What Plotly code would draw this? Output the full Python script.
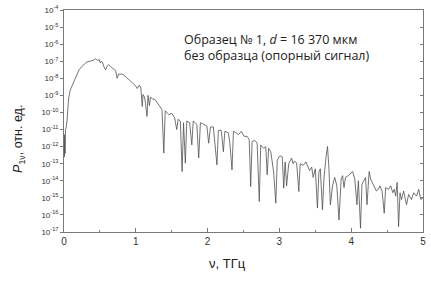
import plotly.graph_objects as go

# frequency, THz
nu = [0.0, 0.005, 0.01, 0.015, 0.02, 0.03, 0.042, 0.055, 0.065, 0.088, 0.11, 0.135, 0.16, 0.18, 0.21, 0.25, 0.29, 0.32, 0.36, 0.39,
      0.42, 0.436, 0.455, 0.47, 0.49, 0.506, 0.52, 0.535, 0.553, 0.58, 0.60, 0.62, 0.645, 0.67, 0.70, 0.72, 0.74, 0.76, 0.80, 0.83,
      0.87, 0.92, 0.95, 0.97, 1.0, 1.02, 1.05, 1.07, 1.09, 1.10, 1.12, 1.135, 1.156, 1.17, 1.19, 1.205, 1.23, 1.27, 1.31, 1.365,
      1.39, 1.41, 1.46, 1.50, 1.54, 1.57, 1.59, 1.62, 1.645, 1.665, 1.69, 1.71, 1.75, 1.78, 1.80, 1.85, 1.876, 1.90, 1.95, 1.99,
      2.015, 2.04, 2.08, 2.13, 2.15, 2.19, 2.22, 2.24, 2.29, 2.31, 2.34, 2.36, 2.40, 2.43, 2.47, 2.51, 2.55, 2.58, 2.60, 2.62,
      2.66, 2.69, 2.72, 2.74, 2.78, 2.81, 2.83, 2.85, 2.88, 2.92, 2.95, 2.97, 2.998, 3.02, 3.04, 3.06, 3.08, 3.10, 3.13, 3.17,
      3.19, 3.21, 3.24, 3.27, 3.29, 3.33, 3.37, 3.40, 3.42, 3.45, 3.47, 3.50, 3.53, 3.55, 3.57, 3.60, 3.62, 3.65, 3.67, 3.69,
      3.71, 3.74, 3.77, 3.80, 3.83, 3.86, 3.88, 3.90, 3.92, 3.96, 4.02, 4.05, 4.08, 4.10, 4.13, 4.15, 4.17, 4.20, 4.22, 4.25,
      4.27, 4.31, 4.35, 4.38, 4.40, 4.43, 4.46, 4.48, 4.52, 4.55, 4.58, 4.60, 4.62, 4.64, 4.66, 4.68, 4.70, 4.73, 4.77, 4.80,
      4.84, 4.87, 4.91, 4.94, 4.97, 5.0]

# log10 of P_1nu, rel. units
logp = [-11.6, -12.6, -11.3, -12.4, -11.0, -10.9, -10.5, -9.6, -9.15, -8.67, -8.45, -8.18, -7.9, -7.69, -7.5, -7.3, -7.15, -7.04, -7.0, -6.96,
        -6.92, -6.85, -6.93, -6.96, -6.9, -7.1, -7.0, -7.05, -7.3, -7.5, -7.3, -7.2, -7.3, -7.39, -7.5, -7.55, -8.0, -7.75, -7.75, -7.8,
        -7.95, -8.14, -8.25, -8.37, -8.45, -8.6, -8.4, -8.57, -9.65, -8.95, -9.1, -9.45, -10.23, -9.0, -9.6, -9.1, -9.2, -9.25, -9.5, -9.84,
        -12.38, -9.9, -10.13, -10.05, -10.3, -11.0, -10.4, -10.5, -13.46, -10.6, -12.97, -10.5, -10.6, -11.9, -10.5, -10.7, -12.67, -10.6, -10.7, -10.8,
        -11.8, -10.85, -10.85, -13.07, -11.05, -11.05, -12.3, -11.1, -11.2, -11.8, -13.36, -11.1, -11.2, -11.3, -11.1, -11.4, -11.4, -11.6, -14.34, -11.7,
        -11.64, -11.8, -15.22, -11.9, -12.1, -12.0, -13.65, -12.1, -12.3, -13.5, -15.31, -12.8, -12.58, -12.55, -12.6, -14.43, -12.9, -14.3, -13.0, -12.67,
        -13.0, -12.85, -12.95, -14.63, -13.0, -13.1, -12.9, -13.2, -13.4, -13.2, -13.8, -13.3, -15.6, -13.5, -13.3, -15.7, -13.9, -12.58, -11.99, -13.3,
        -15.41, -14.3, -13.8, -14.3, -16.3, -13.9, -13.7, -14.4, -13.8, -13.7, -13.46, -13.9, -15.4, -14.0, -16.78, -14.2, -14.0, -13.8, -15.4, -13.46,
        -13.9, -14.3, -14.6, -14.5, -14.3, -14.6, -15.9, -14.4, -14.5, -14.3, -14.7, -14.5, -14.9, -14.1, -16.69, -14.7, -15.1, -14.6, -15.4, -14.8,
        -15.1, -14.7, -14.9, -14.5, -15.1, -15.0]

P = [10 ** v for v in logp]

ytick_exp = list(range(-17, -3))
ytick_vals = [10.0 ** e for e in ytick_exp]
ytick_text = ["10<sup>%d</sup>" % e for e in ytick_exp]
xtick_vals = [0, 1, 2, 3, 4, 5]

fig = go.Figure()
fig.add_trace(go.Scatter(x=nu, y=P, mode="lines",
                         line=dict(color="#505050", width=0.8),
                         showlegend=False, hoverinfo="skip"))
# invisible trace for right axis ticks
fig.add_trace(go.Scatter(x=[nu[0]], y=[P[0]], yaxis="y2", mode="lines",
                         line=dict(width=0), showlegend=False, hoverinfo="skip"))

axis_col = "#7a7a7a"
fig.update_layout(
    width=431, height=285,
    margin=dict(l=64, r=8, t=10, b=53, autoexpand=False),
    paper_bgcolor="white", plot_bgcolor="white",
    font=dict(family="Liberation Sans, Arial", color="#333333"),
    xaxis=dict(range=[0, 5], showline=True, linecolor=axis_col, linewidth=1,
               mirror=True, ticks="inside", ticklen=4, tickcolor=axis_col,
               tickvals=xtick_vals, showgrid=False, zeroline=False, automargin=False,
               tickfont=dict(size=10, color="#333333"),
               minor=dict(dtick=0.5, ticks="inside", ticklen=2, tickcolor=axis_col)),
    yaxis=dict(type="log", range=[-17, -4], showline=True, linecolor=axis_col,
               linewidth=1, mirror=True, ticks="outside", ticklen=3, tickcolor=axis_col,
               tickvals=ytick_vals, ticktext=ytick_text, showgrid=False, zeroline=False,
               automargin=False, tickfont=dict(size=8, color="#333333")),
    yaxis2=dict(type="log", range=[-17, -4], overlaying="y", side="right",
                ticks="inside", ticklen=3, tickcolor=axis_col, tickvals=ytick_vals,
                showticklabels=False, showgrid=False, zeroline=False, showline=False,
                automargin=False),
)

fig.add_annotation(xref="paper", yref="paper", x=-0.125, y=0.42, xanchor="center", yanchor="middle",
                   textangle=-90, showarrow=False,
                   text="<i>P</i><sub>1ν</sub>, отн. ед.",
                   font=dict(size=12.5, family="Liberation Sans, Arial", color="#222222"))
fig.add_annotation(xref="paper", yref="paper", x=0.455, y=-0.1, xanchor="center", yanchor="top",
                   showarrow=False, text="ν, ТГц",
                   font=dict(size=13, family="Liberation Sans, Arial", color="#222222"))
fig.add_annotation(xref="paper", yref="paper", x=0.328, y=0.868, xanchor="left", yanchor="middle",
                   showarrow=False, text="Образец № 1, <i>d</i> = 16 370 мкм",
                   font=dict(size=12.5, family="Open Sans", color="#222222"))
fig.add_annotation(xref="paper", yref="paper", x=0.328, y=0.795, xanchor="left", yanchor="middle",
                   showarrow=False, text="без образца (опорный сигнал)",
                   font=dict(size=12.5, family="Open Sans", color="#222222"))

fig.write_html("out.html", config={"displayModeBar": False},
               post_script="document.body.style.margin='0';")
